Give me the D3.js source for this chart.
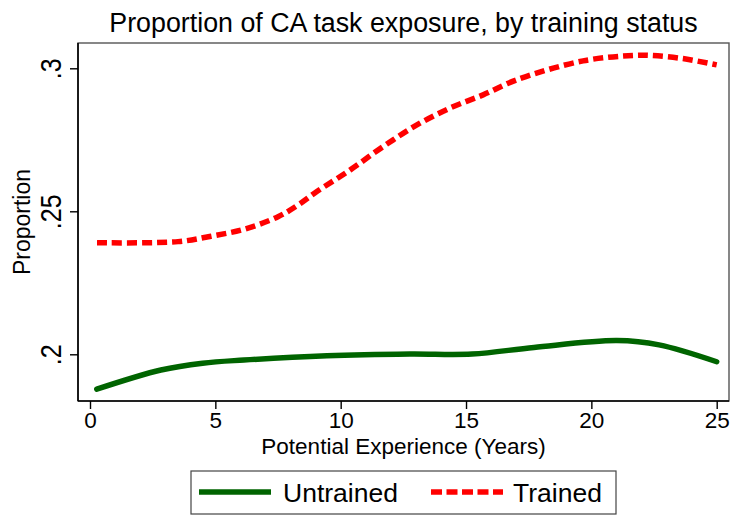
<!DOCTYPE html>
<head>
  <meta charset="utf-8">
  <script src="https://d3js.org/d3.v7.min.js"></script>
  <style>
    body { margin:0; background:#fff; }
    text { font-family: "Liberation Sans", Arial, Helvetica, sans-serif; fill:#000; }
  </style>
</head>
<body>
<script>
  // values
  var experience_untrained = [0.27, 2.83, 4.49, 6.14, 9.45, 12.76, 15.24, 17.71, 21.02, 22.7, 25];
  var untrained = [0.1878, 0.1945, 0.1969, 0.1980, 0.1995, 0.2001, 0.2001, 0.2024, 0.2048, 0.2033, 0.1974];

  var experience_trained = [0.28, 3.51, 4.83, 6.18, 7.5, 8.3, 9.05, 10.37, 11.69, 13.04, 14.36, 15.68, 17.03, 19.67, 21.66, 22.34, 23.65, 25];
  var trained = [0.2390, 0.2394, 0.2413, 0.2438, 0.2481, 0.2522, 0.2569, 0.2644, 0.2726, 0.2802, 0.2861, 0.2907, 0.2960, 0.3026, 0.3045, 0.3045, 0.3034, 0.3012];

  var xTicks = [0, 5, 10, 15, 20, 25];
  var yTicks = [0.2, 0.25, 0.3];
  var yTickLabels = [".2", ".25", ".3"];

  var W = 733, H = 515;
  var box = {left: 78, right: 729, top: 43, bottom: 401};

  var svg = d3.select("body").append("svg")
    .attr("width", W).attr("height", H);

  var x = d3.scaleLinear().domain([0, 25]).range([90, 716.7]);
  var y = d3.scaleLinear().domain([0.2, 0.3]).range([354.3, 68.3]);

  // plot region outline
  svg.append("rect")
    .attr("x", box.left).attr("y", box.top)
    .attr("width", box.right - box.left).attr("height", box.bottom - box.top)
    .attr("fill", "none").attr("stroke", "#555").attr("stroke-width", 1.4);

  // y axis
  var yAxis = svg.append("g")
    .attr("transform", "translate(" + box.left + ",0)")
    .call(d3.axisLeft(y).tickValues(yTicks).tickSize(8).tickFormat(function(d, i) { return yTickLabels[i]; }));
  yAxis.select(".domain").attr("d", "M0," + box.top + "V" + box.bottom).attr("stroke", "#000").attr("stroke-width", 1.6);
  yAxis.selectAll(".tick line").attr("stroke-width", 1.4);
  yAxis.selectAll(".tick text")
    .attr("x", null).attr("dy", null)
    .attr("transform", "translate(-17,0) scale(1.2,1) rotate(-90)")
    .attr("text-anchor", "middle")
    .style("font-size", "25px");

  // x axis
  var xAxis = svg.append("g")
    .attr("transform", "translate(0," + box.bottom + ")")
    .call(d3.axisBottom(x).tickValues(xTicks).tickSize(8).tickFormat(d3.format("d")));
  xAxis.select(".domain").attr("d", "M" + box.left + ",0H" + box.right).attr("stroke", "#000").attr("stroke-width", 1.6);
  xAxis.selectAll(".tick line").attr("stroke-width", 1.4);
  xAxis.selectAll(".tick text").attr("y", 11).style("font-size", "22.5px");

  // axis titles
  svg.append("text")
    .attr("x", (box.left + box.right) / 2).attr("y", 454)
    .attr("text-anchor", "middle").style("font-size", "22.5px")
    .text("Potential Experience (Years)");

  svg.append("text")
    .attr("transform", "translate(30," + ((box.top + box.bottom) / 2) + ") rotate(-90)")
    .attr("text-anchor", "middle").style("font-size", "23px")
    .text("Proportion");

  // title
  svg.append("text")
    .attr("x", (box.left + box.right) / 2).attr("y", 32)
    .attr("text-anchor", "middle").style("font-size", "26.8px")
    .text("Proportion of CA task exposure, by training status");

  // lines
  var line = d3.line()
    .x(function(d) { return x(d[0]); })
    .y(function(d) { return y(d[1]); })
    .curve(d3.curveCatmullRom.alpha(0.5));

  svg.append("path")
    .datum(d3.zip(experience_untrained, untrained))
    .attr("d", line)
    .attr("fill", "none").attr("stroke", "#006400").attr("stroke-width", 5.5)
    .attr("stroke-linecap", "round");

  svg.append("path")
    .datum(d3.zip(experience_trained, trained))
    .attr("d", line)
    .attr("fill", "none").attr("stroke", "#ff0000").attr("stroke-width", 5.5)
    .attr("stroke-dasharray", "10,5");

  // legend
  var lg = svg.append("g");
  lg.append("rect")
    .attr("x", 191).attr("y", 471).attr("width", 425).attr("height", 43)
    .attr("fill", "#fff").attr("stroke", "#444").attr("stroke-width", 1.2);
  lg.append("line")
    .attr("x1", 199).attr("x2", 271).attr("y1", 492).attr("y2", 492)
    .attr("stroke", "#006400").attr("stroke-width", 5.5);
  lg.append("text")
    .attr("x", 283).attr("y", 502).style("font-size", "26.5px")
    .text("Untrained");
  lg.append("line")
    .attr("x1", 431).attr("x2", 503).attr("y1", 492).attr("y2", 492)
    .attr("stroke", "#ff0000").attr("stroke-width", 5.5)
    .attr("stroke-dasharray", "11,4.5");
  lg.append("text")
    .attr("x", 513).attr("y", 502).style("font-size", "26.5px")
    .text("Trained");
</script>
</body>
